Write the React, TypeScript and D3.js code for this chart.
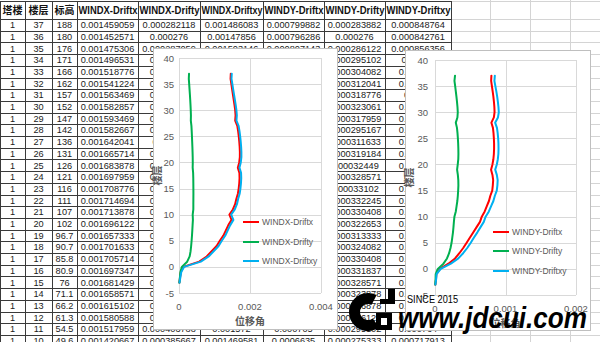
import React from 'react';
import * as d3 from 'd3';

// ---------- data (floors from 37 down to -3) ----------
const floors = [37,36,35,34,33,32,31,30,29,28,27,26,25,24,23,22,21,20,19,18,17,16,15,14,13,12,11,10,9,8,7,6,5,4,3,2,1,0,-1,-2,-3];
const elevations = [188,180,176,171,166,162,157,152,147,142,136,131,126,121,116,111,107,102,96.7,90.7,85.8,80.9,76,71.1,66.2,61.3,54.5,49.6];

const windxDriftx = [0.001459059,0.001452571,0.001475306,0.001496531,0.001518776,0.001541224,0.001563469,0.001582857,0.001593469,0.001582667,0.001642041,0.001665714,0.001683878,0.001697959,0.001708776,0.001714694,0.001713878,0.001696122,0.001657333,0.001701633,0.001705714,0.001697347,0.001681429,0.001658571,0.001615102,0.001580588,0.001517959,0.001420667,0.00148,0.00139,0.00132,0.00125,0.00115,0.00106,0.00092,0.00078,0.00057,0.00012,0.00005,0.00003,0.00001];
const windxDrifty = [0.000282118,0.000276,0.000287059,0.000297,0.000307,0.000316,0.000324,0.000331,0.000336,0.000333,0.00035,0.000358,0.000365,0.000371,0.000377,0.000382,0.000386,0.000388,0.000385,0.000398,0.000402,0.000404,0.000405,0.000406,0.000405,0.000404,0.000403788,0.000385667,0.000392,0.000383,0.000375,0.000366,0.000355,0.000342,0.000326,0.0003,0.00023,0.00008,0.00004,0.000025,0.00001];
const windxDriftxy = [0.001486083,0.00147856,0.001503146,0.001526,0.00155,0.001573,0.001597,0.001617,0.001629,0.001618,0.001679,0.001704,0.001723,0.001738,0.00175,0.001757,0.001757,0.00174,0.001702,0.001748,0.001753,0.001745,0.00173,0.001708,0.001665,0.001632,0.001572,0.001469581,0.001532,0.001443,0.001373,0.001304,0.001205,0.001115,0.000976,0.000836,0.000615,0.000144,0.000064,0.000039,0.000014];

const windyDriftx = [0.000799882,0.000796286,0.000807143,0.000818,0.000828,0.000836,0.000842,0.000845,0.000835,0.0008,0.000822,0.00083,0.000835,0.000838,0.000838,0.000835,0.000828,0.000815,0.000795,0.000815,0.000825,0.00082,0.000812,0.000785,0.000765,0.000735,0.000705,0.0006635,0.000638,0.00059,0.000544,0.000496,0.000449,0.0004,0.000345,0.000284,0.00019,0.00007,0.00002,0.000014,0.000005];
const windyDrifty = [0.000283882,0.000276,0.000286122,0.000295102,0.000304082,0.000312041,0.000318776,0.000323061,0.000317959,0.000295167,0.000311633,0.000319184,0.00032449,0.000328571,0.00033102,0.000332245,0.000330408,0.000322653,0.000313333,0.000324082,0.000330408,0.000331837,0.000328571,0.000323878,0.000316878,0.000306122,0.000295102,0.000275333,0.000268,0.000262,0.000255,0.000245,0.000235,0.00022,0.0002,0.00017,0.00012,0.00004,0.00001,0.000008,0.000003];
const windyDriftxy = [0.000848764,0.000842761,0.000856356,0.00087,0.000882,0.000892,0.0009,0.000905,0.000893,0.000853,0.000879,0.000889,0.000896,0.0009,0.000901,0.000899,0.000891,0.000877,0.000854,0.000877,0.000889,0.000885,0.000876,0.000849,0.000828,0.000796,0.000764,0.000717913,0.000692,0.000646,0.000601,0.000553,0.000507,0.000457,0.000399,0.000331,0.000225,0.000081,0.000022,0.000016,0.000006];

const headers = ['塔楼','楼层','标高','WINDX-Driftx','WINDX-Drifty','WINDX-Driftxy','WINDY-Driftx','WINDY-Drifty','WINDY-Driftxy'];
const yTicks = [-5,0,5,10,15,20,25,30,35,40];
const xTicksX = [0,0.002,0.004];
const xTicksY = [0,0.001,0.002];
const seriesNamesX = ['WINDX-Driftx','WINDX-Drifty','WINDX-Driftxy'];
const seriesNamesY = ['WINDY-Driftx','WINDY-Drifty','WINDY-Driftxy'];
const seriesColors = ['#FF0000','#00B050','#00B0F0'];

const LAT = 'Liberation Sans, Arial, sans-serif';
const CJK = 'Noto Sans CJK SC, sans-serif';

// ---------- layout ----------
const colEdges = [0,25,52,77,138,200,263,324,385,451,490,530,570,610];
const headTop = 1, firstRowTop = 19, rowH = 11.7;
const nTableCols = 9;

function Sheet() {
  const nRows = 29;
  const tableRight = colEdges[nTableCols];
  const rowsY = d3.range(nRows + 1).map(i => firstRowTop + i * rowH);
  const tableRowsVals = floors.slice(0, 29).map((f, i) => [
    '1', String(f), elevations[i] !== undefined ? String(elevations[i]) : '',
    String(windxDriftx[i]), String(windxDrifty[i]), String(windxDriftxy[i]),
    String(windyDriftx[i]), String(windyDrifty[i]), String(windyDriftxy[i])
  ]);
  return (
    <g>
      {/* light gridlines outside the table */}
      {[headTop, ...rowsY].map((y, i) => (
        <line key={'lg' + i} x1={tableRight} x2={600} y1={Math.round(y) + 0.5} y2={Math.round(y) + 0.5} stroke="#D4D4D4" />
      ))}
      {colEdges.slice(nTableCols + 1).map((x, i) => (
        <line key={'lv' + i} x1={x + 0.5} x2={x + 0.5} y1={0} y2={342} stroke="#D4D4D4" />
      ))}
      {/* table borders */}
      {[headTop, ...rowsY].map((y, i) => (
        <line key={'h' + i} x1={0} x2={tableRight} y1={Math.round(y) + 0.5} y2={Math.round(y) + 0.5} stroke="#3a3a3a" />
      ))}
      {colEdges.slice(0, nTableCols + 1).map((x, i) => (
        <line key={'v' + i} x1={x + 0.5} x2={x + 0.5} y1={headTop} y2={342} stroke="#3a3a3a" />
      ))}
      {/* headers */}
      {headers.map((h, c) => {
        const x0 = colEdges[c], x1 = colEdges[c + 1];
        const cy = (headTop + firstRowTop) / 2 + 4;
        if (c < 3) {
          return <text key={'ht' + c} x={(x0 + x1) / 2} y={cy} textAnchor="middle" fontFamily={CJK} fontWeight="bold" fontSize={10} fill="#111">{h}</text>;
        }
        return <text key={'ht' + c} x={x0 + 1.5} y={cy} fontFamily={LAT} fontWeight="bold" fontSize={10} fill="#111" textLength={x1 - x0 - 2} lengthAdjust="spacingAndGlyphs">{h}</text>;
      })}
      {/* cells */}
      {tableRowsVals.map((row, r) => row.map((v, c) => (
        <text key={`c${r}_${c}`} x={(colEdges[c] + colEdges[c + 1]) / 2} y={firstRowTop + r * rowH + rowH / 2 + 3.3}
          textAnchor="middle" fontFamily={LAT} fontSize={9.2} fill="#1a1a1a">{v}</text>
      )))}
    </g>
  );
}

type PanelProps = {
  box: [number, number, number, number];
  plot: [number, number, number, number]; // left, right, top, bottom
  xDomain: [number, number];
  xTicks: number[];
  series: number[][];
  names: string[];
  legendX: number;
  legendY: number[];
  yTitleX: number;
  labelRight: number;
};

function Panel(p: PanelProps) {
  const [bx, by, bw, bh] = p.box;
  const [pl, pr, pt, pb] = p.plot;
  const x = d3.scaleLinear().domain(p.xDomain).range([pl, pr]);
  const y = d3.scaleLinear().domain([-5, 40]).range([pb, pt]);
  const line = d3.line<[number, number]>().x(d => x(d[0])).y(d => y(d[1]));
  return (
    <g>
      <rect x={bx + 0.5} y={by + 0.5} width={bw} height={bh} fill="#fff" stroke="#BFBFBF" />
      {yTicks.map(t => (
        <line key={'gy' + t} x1={pl} x2={pr} y1={Math.round(y(t)) + 0.5} y2={Math.round(y(t)) + 0.5} stroke="#D9D9D9" />
      ))}
      {p.xTicks.map(t => (
        <line key={'gx' + t} x1={Math.round(x(t)) + 0.5} x2={Math.round(x(t)) + 0.5} y1={pt} y2={pb} stroke="#D9D9D9" />
      ))}
      {yTicks.map(t => (
        <text key={'ty' + t} x={p.labelRight} y={y(t) + 3.5} textAnchor="end" fontFamily={LAT} fontSize={9.5} fill="#595959">{String(t)}</text>
      ))}
      {p.xTicks.map(t => (
        <text key={'tx' + t} x={x(t)} y={pb + 17} textAnchor="middle" fontFamily={LAT} fontSize={9.5} fill="#595959">{String(t)}</text>
      ))}
      <text x={(pl + pr) / 2} y={pb + 32} textAnchor="middle" fontFamily={CJK} fontWeight="bold" fontSize={10} fill="#595959">位移角</text>
      <text transform={`translate(${p.yTitleX},${(pt + pb) / 2}) rotate(-90)`} textAnchor="middle" fontFamily={CJK} fontWeight="bold" fontSize={10} fill="#595959">楼层</text>
      {p.series.map((vals, si) => (
        <path key={'s' + si} d={line(floors.map((f, i) => [vals[i], f] as [number, number])) || ''}
          fill="none" stroke={seriesColors[si]} strokeWidth={2} strokeLinejoin="round" strokeLinecap="round" />
      ))}
      {p.names.map((n, i) => (
        <g key={'lg' + i}>
          <line x1={p.legendX} x2={p.legendX + 16} y1={p.legendY[i]} y2={p.legendY[i]} stroke={seriesColors[i]} strokeWidth={2} />
          <text x={p.legendX + 19} y={p.legendY[i] + 3} fontFamily={LAT} fontSize={8.5} fill="#595959">{n}</text>
        </g>
      ))}
    </g>
  );
}

function Watermark() {
  const arc = d3.arc()({ innerRadius: 8, outerRadius: 19, startAngle: 0.8 * Math.PI, endAngle: 2.15 * Math.PI } as any) || '';
  return (
    <g fill="#000">
      <path d={arc} transform="translate(368,312)" />
      <rect x={376} y={313} width={16} height={17} />
      <rect x={381} y={318} width={6} height={7} fill="#fff" />
      <rect x={388} y={289} width={7} height={15} />
      <rect x={380} y={299} width={12} height={5} />
      <text x={407} y={303} fontFamily={LAT} fontSize={11} textLength={51} lengthAdjust="spacingAndGlyphs">SINCE 2015</text>
      <text x={398} y={328} fontFamily={LAT} fontWeight="bold" fontStyle="italic" fontSize={29} textLength={189} lengthAdjust="spacingAndGlyphs">www.jdcui.com</text>
    </g>
  );
}

export default function App() {
  return (
    <svg width={600} height={342} style={{ position: 'absolute', left: 0, top: 0, background: '#fff' }}>
      <rect width={600} height={342} fill="#fff" />
      <Sheet />
      <Panel box={[153, 48, 184, 281]} plot={[179, 321, 58, 293]} xDomain={[0, 0.004]} xTicks={xTicksX}
        series={[windxDriftx, windxDrifty, windxDriftxy]} names={seriesNamesX}
        legendX={243} legendY={[222, 242, 261]} yTitleX={161} labelRight={174} />
      <Panel box={[405, 50, 185, 280]} plot={[435, 576, 60, 295]} xDomain={[0, 0.002]} xTicks={xTicksY}
        series={[windyDriftx, windyDrifty, windyDriftxy]} names={seriesNamesY}
        legendX={493} legendY={[232, 251, 271]} yTitleX={413} labelRight={428} />
      <Watermark />
    </svg>
  );
}
